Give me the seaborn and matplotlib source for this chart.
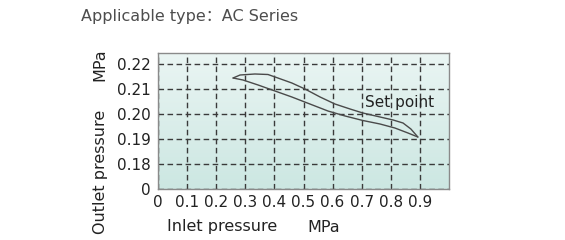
import numpy as np
import pandas as pd
import matplotlib
matplotlib.use("Agg")
import matplotlib.pyplot as plt
import seaborn as sns
from matplotlib.colors import LinearSegmentedColormap

# ---- data ----
upper_inlet = [0.258, 0.282, 0.333, 0.378, 0.412, 0.460, 0.505, 0.557, 0.608,
               0.660, 0.704, 0.763, 0.808, 0.842, 0.869, 0.893]
upper_outlet = [0.2144, 0.2156, 0.2160, 0.2158, 0.2144, 0.2124, 0.2100, 0.2068, 0.2040,
                0.2020, 0.2004, 0.1988, 0.1976, 0.1964, 0.1940, 0.1908]
lower_inlet = [0.258, 0.292, 0.344, 0.402, 0.460, 0.522, 0.584, 0.643, 0.704,
               0.763, 0.814, 0.859, 0.893]
lower_outlet = [0.2144, 0.2136, 0.2116, 0.2092, 0.2068, 0.2040, 0.2012, 0.1992, 0.1974,
                0.1960, 0.1944, 0.1924, 0.1908]
x_ticks = [0, 0.1, 0.2, 0.3, 0.4, 0.5, 0.6, 0.7, 0.8, 0.9]
x_tick_labels = ["0", "0.1", "0.2", "0.3", "0.4", "0.5", "0.6", "0.7", "0.8", "0.9"]
y_ticks = [0.17, 0.18, 0.19, 0.20, 0.21, 0.22]
y_tick_labels = ["0", "0.18", "0.19", "0.20", "0.21", "0.22"]

sns.set_style("white")
plt.rcParams['font.family'] = ['DejaVu Sans', 'Noto Sans CJK SC']

fig = plt.figure(figsize=(5.65, 2.40), dpi=100)
ax = fig.add_axes([158/565, 1-189/240, (449-158)/565, (189-53)/240])

xmin, xmax = 0.0, 1.0
ymin, ymax = 0.17, 0.2244

# background gradient
cmap = LinearSegmentedColormap.from_list("bg", ["#cce7e2", "#eaf5f3"])
grad = np.linspace(0, 1, 256).reshape(-1, 1)
ax.imshow(grad, aspect="auto", cmap=cmap, origin="lower",
          extent=[xmin, xmax, ymin, ymax], zorder=0)

df_up = pd.DataFrame({"inlet": upper_inlet, "outlet": upper_outlet})
df_lo = pd.DataFrame({"inlet": lower_inlet, "outlet": lower_outlet})
sns.lineplot(data=df_up, x="inlet", y="outlet", ax=ax, sort=False, estimator=None,
             color="#4a4a4a", linewidth=1.0, zorder=3)
sns.lineplot(data=df_lo, x="inlet", y="outlet", ax=ax, sort=False, estimator=None,
             color="#4a4a4a", linewidth=1.0, zorder=3)

ax.set_xlim(xmin, xmax)
ax.set_ylim(ymin, ymax)
ax.set_xticks(x_ticks)
ax.set_xticklabels(x_tick_labels)
ax.set_yticks(y_ticks)
ax.set_yticklabels(y_tick_labels)
ax.tick_params(axis="both", length=0, labelsize=11, colors="#222222")
ax.tick_params(axis="x", pad=4)
ax.tick_params(axis="y", pad=5)
ax.grid(True, linestyle=(0, (4, 2.5)), color="#3a3a3a", linewidth=1.0)
for gl in ax.get_xgridlines() + ax.get_ygridlines():
    gl.set_zorder(2)
for s in ax.spines.values():
    s.set_color("#8a8a8a")
    s.set_linewidth(1.0)
ax.set_xlabel("")
ax.set_ylabel("")

ax.text(0.711, 0.2044, "Set point", fontsize=11, color="#222222", va="center", ha="left", zorder=4)

fig.text(81/565, 1-16/240, "Applicable type：AC Series", fontsize=11.5, color="#4d4d4d",
         ha="left", va="center")
fig.text(222/565, 1-227/240, "Inlet pressure", fontsize=11.5, color="#222222", ha="center", va="center")
fig.text(324/565, 1-227/240, "MPa", fontsize=11.5, color="#222222", ha="center", va="center")
fig.text(100/565, 1-172/240, "Outlet pressure", fontsize=11.5, color="#222222", ha="center",
         va="center", rotation=90)
fig.text(100/565, 1-65/240, "MPa", fontsize=11.5, color="#222222", ha="center", va="center", rotation=90)

fig.savefig("out.png", dpi=100, facecolor="white")
